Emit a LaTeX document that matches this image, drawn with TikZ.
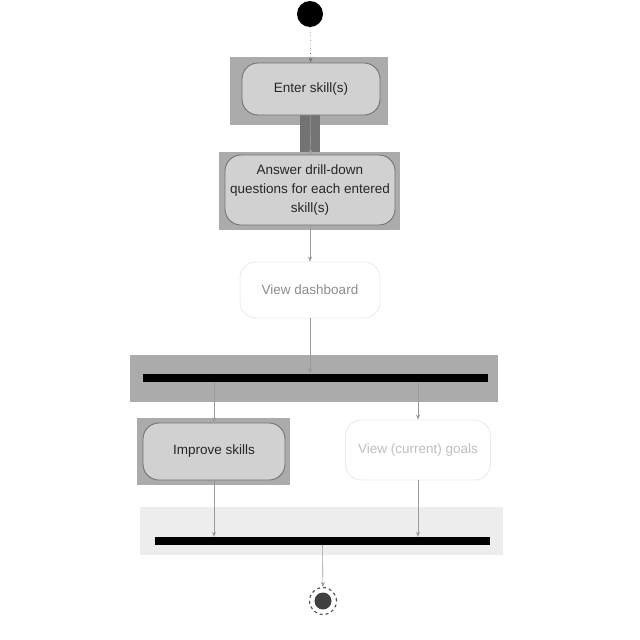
\documentclass[tikz,border=0pt]{standalone}
\usepackage{fontspec}
\setmainfont{Liberation Sans}
\usetikzlibrary{arrows.meta}
\tikzset{
  panel/.style={fill=black!33,draw=none,inner sep=0pt},
  act/.style={draw=black!55,line width=0.9pt,rounded corners=16pt,fill=black!18,
    align=center,inner sep=1pt,text=black!85,font=\fontsize{13.5}{19}\selectfont},
  faint/.style={act,draw=black!8,fill=white,text=black!45},
  bar/.style={fill=black,inner sep=0pt,minimum height=8pt},
  flow/.style={draw=black!40,line width=0.6pt,-{Stealth[length=5pt,width=4pt]}}
}
\begin{document}
\begin{tikzpicture}[x=1pt,y=-1pt]
  \useasboundingbox (0,0) rectangle (640,640);
  % backgrounds
  \node[panel,minimum width=158pt,minimum height=68pt] (p1) at (309,91) {};
  \node[panel,minimum width=181pt,minimum height=78pt] (p2) at (309.5,191) {};
  \node[panel,fill=black!55,minimum width=20pt,minimum height=37pt] (band) at (310,133.5) {};
  \node[panel,minimum width=368pt,minimum height=47pt] (p3) at (314,378.5) {};
  \node[panel,minimum width=153pt,minimum height=67pt] (p4) at (213.5,451.5) {};
  \node[panel,fill=black!7,minimum width=363pt,minimum height=48pt] (p5) at (321.5,531) {};
  % nodes
  \node[circle,fill=black,minimum size=26pt,inner sep=0pt] (init) at (310,14) {};
  \node[act,minimum width=138pt,minimum height=52pt] (enter) at (311,89) {Enter skill(s)};
  \node[act,minimum width=170pt,minimum height=70pt] (answer) at (310,190)
    {Answer drill-down\\questions for each entered\\skill(s)};
  \node[faint,minimum width=140pt,minimum height=56pt] (dash) at (310,290) {View dashboard};
  \node[bar,minimum width=345pt] (fork) at (315.5,377.5) {};
  \node[act,minimum width=142pt,minimum height=57pt] (improve) at (214,451.5) {Improve skills};
  \node[faint,text=black!25,minimum width=145pt,minimum height=60pt] (goals) at (418,450) {View (current) goals};
  \node[bar,minimum width=335pt] (join) at (322.5,541) {};
  \node[circle,draw=black!65,dashed,line width=1.2pt,minimum size=27pt,inner sep=0pt] (final) at (323,601) {};
  \node[circle,fill=black!75,minimum size=17pt,inner sep=0pt] (finaldot) at (final) {};
  % connectors
  \begin{scope}[flow]
    \draw[dotted,draw=black!55] (init) to (enter);
    \draw (enter) to (answer);
    \draw (answer) to (dash);
    \draw (dash) to (fork.north -| dash);
    \draw (fork.south -| improve) to (improve);
    \draw (fork.south -| goals) to (goals);
    \draw (improve) to (join.north -| improve);
    \draw (goals) to (join.north -| goals);
    \draw (join) to (final);
  \end{scope}
\end{tikzpicture}
\end{document}
